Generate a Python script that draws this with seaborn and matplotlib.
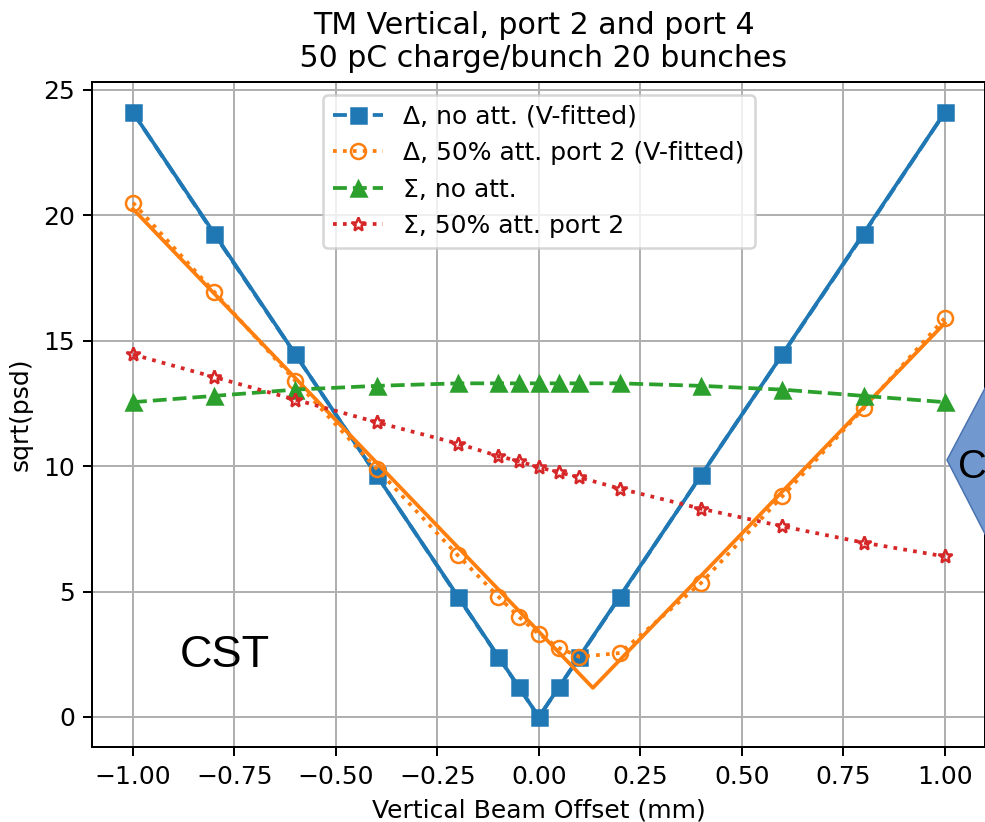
import matplotlib
matplotlib.use("Agg")
import matplotlib.pyplot as plt
from matplotlib.patches import Polygon
import seaborn as sns

# offsets (mm)
offset = [-1.0, -0.8, -0.6, -0.4, -0.2, -0.1, -0.05, 0.0, 0.05, 0.1, 0.2, 0.4, 0.6, 0.8, 1.0]

# sqrt(psd) values
delta_no_att = [24.1, 19.25, 14.45, 9.65, 4.8, 2.4, 1.2, 0.0, 1.2, 2.4, 4.8, 9.65, 14.45, 19.25, 24.1]
delta_att = [20.5, 16.95, 13.4, 9.9, 6.45, 4.8, 4.0, 3.3, 2.75, 2.4, 2.55, 5.35, 8.8, 12.3, 15.9]
sigma_no_att = [12.55, 12.8, 13.05, 13.2, 13.3, 13.3, 13.3, 13.3, 13.3, 13.3, 13.3, 13.2, 13.05, 12.8, 12.55]
sigma_att = [14.45, 13.55, 12.65, 11.75, 10.9, 10.4, 10.2, 9.95, 9.75, 9.55, 9.1, 8.3, 7.6, 6.95, 6.4]

# V-fit end points and vertex
fit_no_att_x = [-1.0, 0.0, 1.0]
fit_no_att_y = [24.1, 0.0, 24.1]
fit_att_x = [-1.0, 0.133, 1.0]
fit_att_y = [20.25, 1.16, 15.7]

W, H = 985, 822
dpi = 180
fig = plt.figure(figsize=(W / dpi, H / dpi), dpi=dpi)
ax = fig.add_axes([92.4 / W, 1 - 747.2 / H, 893.0 / W, 665.0 / H])

blue, orange, green, red = "tab:blue", "tab:orange", "tab:green", "tab:red"

sns.lineplot(x=offset, y=delta_no_att, ax=ax, color=blue, linestyle="--", marker="s",
             markersize=6, markeredgecolor=blue, markeredgewidth=1,
             label="\u0394, no att. (V-fitted)")
sns.lineplot(x=fit_no_att_x, y=fit_no_att_y, ax=ax, color=blue, linestyle="-")

sns.lineplot(x=offset, y=delta_att, ax=ax, color=orange, linestyle=":", marker="o",
             markersize=6, markerfacecolor="none", markeredgecolor=orange, markeredgewidth=1,
             label="\u0394, 50% att. port 2 (V-fitted)")
sns.lineplot(x=fit_att_x, y=fit_att_y, ax=ax, color=orange, linestyle="-")

sns.lineplot(x=offset, y=sigma_no_att, ax=ax, color=green, linestyle="--", marker="^",
             markersize=6, markeredgecolor=green, markeredgewidth=1,
             label="\u03a3, no att.")
sns.lineplot(x=offset, y=sigma_att, ax=ax, color=red, linestyle=":", marker="*",
             markersize=6, markerfacecolor="none", markeredgecolor=red, markeredgewidth=1,
             label="\u03a3, 50% att. port 2")

ax.grid(True)
ax.set_title("TM Vertical, port 2 and port 4 \n 50 pC charge/bunch 20 bunches")
ax.set_xlabel("Vertical Beam Offset (mm)")
ax.set_ylabel("sqrt(psd)")
ax.legend(loc="upper center")

# slide overlays
fig.text(180 / W, 1 - 667 / H, "CST", family="Liberation Sans", fontsize=18, color="black")
shape = Polygon([(947 / W, 1 - 460 / H), (1000 / W, 1 - 360 / H), (1010 / W, 1 - 360 / H),
                 (1010 / W, 1 - 560 / H), (1000 / W, 1 - 563 / H)],
                closed=True, transform=fig.transFigure, facecolor="#7199cf",
                edgecolor="#4a72b0", linewidth=0.6, clip_on=False)
fig.patches.append(shape)
fig.text(958 / W, 1 - 478 / H, "C", family="Liberation Sans", fontsize=16, color="black")

fig.savefig("out.png", dpi=dpi)
